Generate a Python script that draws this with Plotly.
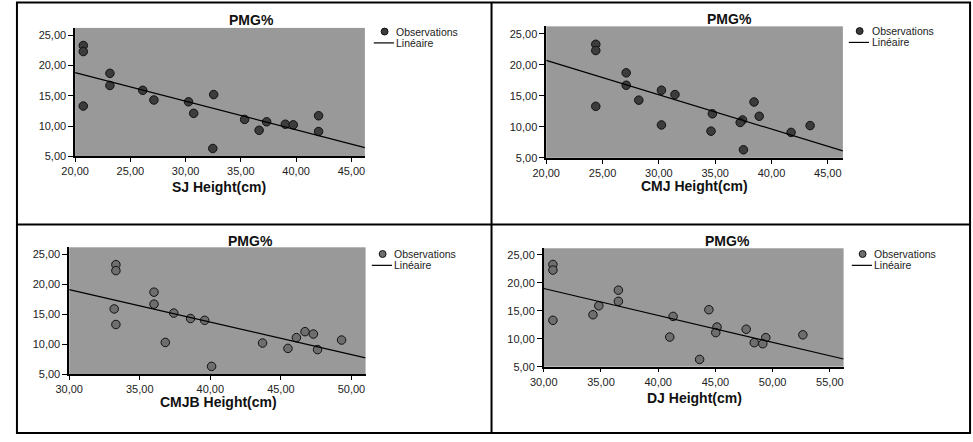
import numpy as np
import plotly.graph_objects as go

# ---------------- data ----------------
pmg = [23.3, 22.3, 13.3, 18.7, 16.7, 15.9, 14.3, 14.0, 12.1, 15.2, 6.3, 11.1, 9.3, 10.7, 10.3, 10.2, 11.7, 9.1]
sj_height = [20.74, 20.74, 20.74, 23.15, 23.15, 26.12, 27.13, 30.26, 30.73, 32.54, 32.46, 35.34, 36.65, 37.33, 39.02, 39.74, 42.03, 42.03]
cmj_height = [24.4, 24.4, 24.4, 27.1, 27.1, 30.23, 28.22, 38.45, 34.75, 31.43, 37.51, 37.43, 34.63, 37.22, 30.23, 43.43, 38.91, 41.74]
cmjb_height = [33.31, 33.31, 33.31, 36.01, 36.01, 33.19, 38.60, 39.60, 46.71, 37.41, 40.09, 46.10, 45.50, 49.30, 36.81, 43.70, 47.30, 47.60]
dj_height = [30.8, 30.8, 30.8, 36.52, 36.52, 34.81, 34.3, 41.3, 45.14, 44.43, 43.62, 45.03, 48.39, 52.64, 41.01, 49.40, 47.69, 49.14]

y_tickvals = [5, 10, 15, 20, 25]
y_ticktext = ["5,00", "10,00", "15,00", "20,00", "25,00"]
x_tickvals_a = [20, 25, 30, 35, 40, 45]
x_ticktext_a = ["20,00", "25,00", "30,00", "35,00", "40,00", "45,00"]
x_tickvals_b = [30, 35, 40, 45, 50]
x_ticktext_b = ["30,00", "35,00", "40,00", "45,00", "50,00"]
x_tickvals_c = [30, 35, 40, 45, 50, 55]
x_ticktext_c = ["30,00", "35,00", "40,00", "45,00", "50,00", "55,00"]

chart_title = "PMG%"
x_titles = ["SJ Height(cm)", "CMJ Height(cm)", "CMJB Height(cm)", "DJ Height(cm)"]
legend_labels = ["Observations", "Linéaire"]

# ---------------- layout helpers ----------------
W, H = 973, 442
FONT = "Liberation Sans, Arial, Helvetica, sans-serif"


def px(x):
    return x / W


def py(y):
    return 1 - y / H


panels = [
    dict(x=sj_height, xr=[20, 46.22], xt=(x_tickvals_a, x_ticktext_a), box=(62, 356, 28.3, 158.5),
         title=(241, 20), xtitle=(208, 190), leg=(376, 32), fill="#3c3c3c"),
    dict(x=cmj_height, xr=[20, 46.34], xt=(x_tickvals_a, x_ticktext_a), box=(540, 841, 26.7, 160),
         title=(726, 19), xtitle=(690, 189), leg=(858, 31.5), fill="#3c3c3c"),
    dict(x=cmjb_height, xr=[30, 51.0], xt=(x_tickvals_b, x_ticktext_b), box=(56, 356.7, 250.7, 379.3),
         title=(240, 244), xtitle=(207, 408), leg=(374, 257.5), fill="#6e6e6e"),
    dict(x=dj_height, xr=[30, 56.2], xt=(x_tickvals_c, x_ticktext_c), box=(537.5, 841.7, 251.7, 371.7),
         title=(724, 244), xtitle=(690, 403), leg=(861, 257.5), fill="#6e6e6e"),
]

LEG_GAP = 11.5

fig = go.Figure()
layout = dict(
    width=W, height=H,
    margin=dict(l=0, r=0, t=0, b=0, pad=0),
    paper_bgcolor="white",
    plot_bgcolor="#999999",
    showlegend=False,
    font=dict(family=FONT, color="#222222"),
)
shapes = []
annotations = []

for i, p in enumerate(panels):
    n = "" if i == 0 else str(i + 1)
    xa, ya = "x" + n, "y" + n
    x0, x1, y0, y1 = p["box"]

    fig.add_trace(go.Scatter(
        x=p["x"], y=pmg, mode="markers", xaxis=xa, yaxis=ya,
        marker=dict(size=8.5, color=p["fill"], line=dict(color="#111111", width=1)),
        cliponaxis=False,
    ))
    slope, intercept = np.polyfit(np.array(p["x"]), np.array(pmg), 1)
    lx = np.array(p["xr"])
    fig.add_trace(go.Scatter(
        x=lx, y=slope * lx + intercept, mode="lines", xaxis=xa, yaxis=ya,
        line=dict(color="black", width=1.2),
    ))

    layout["xaxis" + n] = dict(
        domain=[px(x0), px(x1)], anchor=ya, range=p["xr"],
        tickvals=p["xt"][0], ticktext=p["xt"][1],
        ticks="outside", ticklen=4, tickcolor="black", tickwidth=1,
        showline=True, linecolor="black", linewidth=1.5,
        showgrid=False, zeroline=False,
        tickfont=dict(size=11, family=FONT, color="#222222"),
    )
    layout["yaxis" + n] = dict(
        domain=[py(y1), py(y0)], anchor=xa, range=[5, 26.2],
        tickvals=y_tickvals, ticktext=y_ticktext,
        ticks="outside", ticklen=5, tickcolor="black", tickwidth=1,
        showline=True, linecolor="black", linewidth=1.5,
        showgrid=False, zeroline=False,
        tickfont=dict(size=11, family=FONT, color="#222222"),
    )

    # chart title and axis title
    annotations.append(dict(
        text="<b>" + chart_title + "</b>", xref="paper", yref="paper",
        x=px(p["title"][0]), y=py(p["title"][1]), xanchor="center", yanchor="middle",
        showarrow=False, font=dict(size=14, family=FONT, color="#111111"),
    ))
    annotations.append(dict(
        text="<b>" + x_titles[i] + "</b>", xref="paper", yref="paper",
        x=px(p["xtitle"][0]), y=py(p["xtitle"][1]), xanchor="center", yanchor="middle",
        showarrow=False, font=dict(size=14, family=FONT, color="#111111"),
    ))

    # legend (drawn manually, compact SPSS style)
    cx, cy = p["leg"]
    shapes.append(dict(
        type="circle", xref="paper", yref="paper",
        x0=px(cx - 3.5), x1=px(cx + 3.5), y0=py(cy + 3.5), y1=py(cy - 3.5),
        fillcolor=p["fill"], line=dict(color="#111111", width=1),
    ))
    shapes.append(dict(
        type="line", xref="paper", yref="paper",
        x0=px(cx - 11), x1=px(cx + 9.5), y0=py(cy + LEG_GAP), y1=py(cy + LEG_GAP),
        line=dict(color="black", width=1.2),
    ))
    annotations.append(dict(
        text=legend_labels[0], xref="paper", yref="paper",
        x=px(cx + 10), y=py(cy), xanchor="left", yanchor="middle",
        showarrow=False, font=dict(size=10.5, family=FONT, color="#222222"),
    ))
    annotations.append(dict(
        text=legend_labels[1], xref="paper", yref="paper",
        x=px(cx + 10), y=py(cy + LEG_GAP), xanchor="left", yanchor="middle",
        showarrow=False, font=dict(size=10.5, family=FONT, color="#222222"),
    ))

# table borders around the four panels
border = dict(color="black", width=2)
for xv in (3, 484.5, 970):
    shapes.append(dict(type="line", xref="paper", yref="paper",
                       x0=px(xv), x1=px(xv), y0=py(2), y1=py(439.5), line=border))
for yv in (2.5, 227.5, 439):
    shapes.append(dict(type="line", xref="paper", yref="paper",
                       x0=px(2), x1=px(971), y0=py(yv), y1=py(yv), line=border))

layout["shapes"] = shapes
layout["annotations"] = annotations
fig.update_layout(**layout)

# place the figure at the page's top-left corner (no default body margin)
fig.write_html(
    "out.html",
    config={"displayModeBar": False},
    post_script="document.body.style.margin='0';document.body.style.overflow='hidden';",
)
